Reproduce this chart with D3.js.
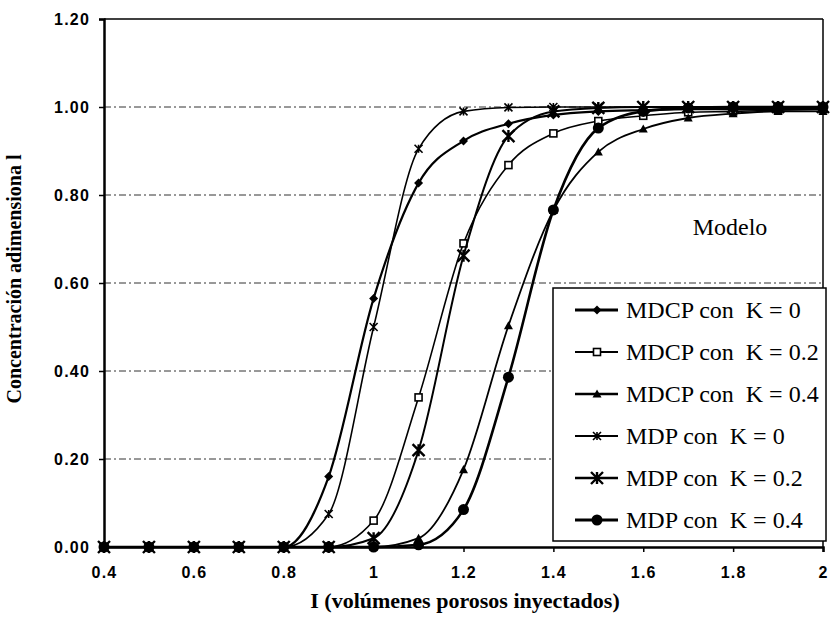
<!DOCTYPE html>
<html>
<head>
<meta charset="utf-8">
<script src="https://cdn.jsdelivr.net/npm/d3@7"></script>
<style>
  html, body { margin: 0; padding: 0; background: #fff; }
  svg { display: block; }
</style>
</head>
<body>
<svg id="chart" width="832" height="628"></svg>
<script>
// ---- data ----
const xValues = [0.4, 0.5, 0.6, 0.7, 0.8, 0.9, 1.0, 1.1, 1.2, 1.3, 1.4, 1.5, 1.6, 1.7, 1.8, 1.9, 2.0];
const mdcpK0  = [0, 0, 0, 0, 0, 0.16, 0.565, 0.827, 0.923, 0.962, 0.982, 0.99, 0.993, 0.995, 0.995, 0.995, 0.995];
const mdcpK02 = [0, 0, 0, 0, 0, 0, 0.06, 0.34, 0.69, 0.868, 0.94, 0.968, 0.98, 0.988, 0.99, 0.993, 0.995];
const mdcpK04 = [0, 0, 0, 0, 0, 0, 0, 0.02, 0.176, 0.503, 0.765, 0.898, 0.95, 0.975, 0.985, 0.99, 0.99];
const mdpK0   = [0, 0, 0, 0, 0, 0.075, 0.5, 0.905, 0.99, 0.999, 1, 1, 1, 1, 1, 1, 1];
const mdpK02  = [0, 0, 0, 0, 0, 0, 0.02, 0.22, 0.662, 0.934, 0.99, 0.998, 1, 1, 1, 1, 1];
const mdpK04  = [0, 0, 0, 0, 0, 0, 0, 0.005, 0.085, 0.386, 0.766, 0.952, 0.99, 0.998, 1, 1, 1];
const seriesNames = ["MDCP con  K = 0", "MDCP con  K = 0.2", "MDCP con  K = 0.4",
                     "MDP con  K = 0", "MDP con  K = 0.2", "MDP con  K = 0.4"];
const xTicks = [0.4, 0.6, 0.8, 1, 1.2, 1.4, 1.6, 1.8, 2];
const yTicks = [0, 0.2, 0.4, 0.6, 0.8, 1.0, 1.2];
const xTitle = "I (volúmenes porosos inyectados)";
const yTitle = "Concentración adimensiona l";
const noteText = "Modelo";

// ---- styles ----
const styles = [
  { marker: "diamond",  width: 2.2, size: 4.5 },
  { marker: "square",   width: 1.6, size: 3.5 },
  { marker: "triangle", width: 1.8, size: 4.5 },
  { marker: "star",     width: 1.6, size: 4 },
  { marker: "bigx",     width: 2,   size: 6 },
  { marker: "circle",   width: 2.6, size: 5.5 }
];
const seriesValues = [mdcpK0, mdcpK02, mdcpK04, mdpK0, mdpK02, mdpK04];

const svg = d3.select("#chart");
const x = d3.scaleLinear().domain([0.4, 2]).range([104, 823]);
const y = d3.scaleLinear().domain([0, 1.2]).range([547, 19]);

// gridlines
svg.append("g").selectAll("line")
  .data(yTicks.filter(d => d > 0 && d < 1.2))
  .join("line")
  .attr("x1", x(0.4)).attr("x2", x(2))
  .attr("y1", d => y(d)).attr("y2", d => y(d))
  .attr("stroke", "#333").attr("stroke-width", 1)
  .attr("stroke-dasharray", "7,3,2,3");

// plot frame (top/right)
svg.append("line").attr("x1", x(0.4)).attr("x2", x(2)).attr("y1", y(1.2)).attr("y2", y(1.2))
  .attr("stroke", "#000").attr("stroke-width", 1.5);
svg.append("line").attr("x1", x(2)).attr("x2", x(2)).attr("y1", y(1.2)).attr("y2", y(0))
  .attr("stroke", "#000").attr("stroke-width", 1.5);

// axes
const xAxis = d3.axisBottom(x).tickValues(xTicks).tickSize(5).tickPadding(15)
  .tickFormat(d => d3.format("")(d));
const yAxis = d3.axisLeft(y).tickValues(yTicks).tickSize(5).tickPadding(9)
  .tickFormat(d3.format(".2f"));

const gx = svg.append("g").attr("transform", `translate(0,${y(0)})`).call(xAxis);
const gy = svg.append("g").attr("transform", `translate(${x(0.4)},0)`).call(yAxis);
[gx, gy].forEach(g => {
  g.select(".domain").attr("stroke", "#000").attr("stroke-width", 2.5);
  g.selectAll(".tick line").attr("stroke", "#000").attr("stroke-width", 1.5);
  g.selectAll(".tick text")
    .attr("fill", "#000")
    .style("font-family", "'Liberation Sans', Arial, sans-serif")
    .style("font-weight", "bold")
    .style("font-size", "16px")
    .style("letter-spacing", "1.2px");
});
gx.selectAll(".tick text").attr("dy", "0.71em");

// markers
function drawMarker(g, type, s) {
  switch (type) {
    case "diamond":
      g.append("path").attr("d", `M0,${-s}L${s},0L0,${s}L${-s},0Z`).attr("fill", "#000");
      break;
    case "square":
      g.append("rect").attr("x", -s).attr("y", -s).attr("width", 2 * s).attr("height", 2 * s)
        .attr("fill", "#fff").attr("stroke", "#000").attr("stroke-width", 1.6);
      break;
    case "triangle":
      g.append("path").attr("d", `M0,${-s}L${s},${s * 0.8}L${-s},${s * 0.8}Z`).attr("fill", "#000");
      break;
    case "star":
      g.append("path").attr("d", `M${-s},${-s}L${s},${s}M${-s},${s}L${s},${-s}M0,${-s}L0,${s}`)
        .attr("stroke", "#000").attr("stroke-width", 1.6).attr("fill", "none");
      break;
    case "bigx":
      g.append("path").attr("d", `M${-s},${-s}L${s},${s}M${-s},${s}L${s},${-s}M0,${-s}L0,${s}`)
        .attr("stroke", "#000").attr("stroke-width", 2.4).attr("fill", "none");
      break;
    case "circle":
      g.append("circle").attr("r", s).attr("fill", "#000");
      break;
  }
}

const line = d3.line().x(d => x(d[0])).y(d => y(d[1])).curve(d3.curveMonotoneX);

seriesValues.forEach((vals, i) => {
  const pts = xValues.map((xv, j) => [xv, vals[j]]);
  const g = svg.append("g");
  g.append("path").datum(pts).attr("d", line)
    .attr("fill", "none").attr("stroke", "#000").attr("stroke-width", styles[i].width);
  pts.forEach(p => {
    const mg = g.append("g").attr("transform", `translate(${x(p[0])},${y(p[1])})`);
    drawMarker(mg, styles[i].marker, styles[i].size);
  });
});

// "Modelo" text
svg.append("text").attr("x", 730).attr("y", 235).attr("text-anchor", "middle")
  .style("font-family", "'Liberation Serif', 'Times New Roman', serif")
  .style("font-size", "24px").text(noteText);

// legend
const lg = svg.append("g");
lg.append("rect").attr("x", 553).attr("y", 288).attr("width", 273).attr("height", 253)
  .attr("fill", "#fff").attr("stroke", "#000").attr("stroke-width", 1.5);
seriesNames.forEach((name, i) => {
  const cy = 310 + i * 42;
  lg.append("line").attr("x1", 575).attr("x2", 618).attr("y1", cy).attr("y2", cy)
    .attr("stroke", "#000").attr("stroke-width", styles[i].width + 0.6);
  const mg = lg.append("g").attr("transform", `translate(597,${cy})`);
  drawMarker(mg, styles[i].marker, styles[i].size);
  lg.append("text").attr("x", 626).attr("y", cy + 8)
    .attr("xml:space", "preserve").style("white-space", "pre")
    .style("font-family", "'Liberation Serif', 'Times New Roman', serif")
    .style("font-size", "24px").text(name);
});

// axis titles
svg.append("text").attr("x", 465).attr("y", 608).attr("text-anchor", "middle")
  .style("font-family", "'Liberation Serif', 'Times New Roman', serif")
  .style("font-weight", "bold").style("font-size", "22px").text(xTitle);
svg.append("text").attr("transform", "translate(21,279) rotate(-90)").attr("text-anchor", "middle")
  .style("font-family", "'Liberation Serif', 'Times New Roman', serif")
  .style("font-weight", "bold").style("font-size", "20px").text(yTitle);
</script>
</body>
</html>
